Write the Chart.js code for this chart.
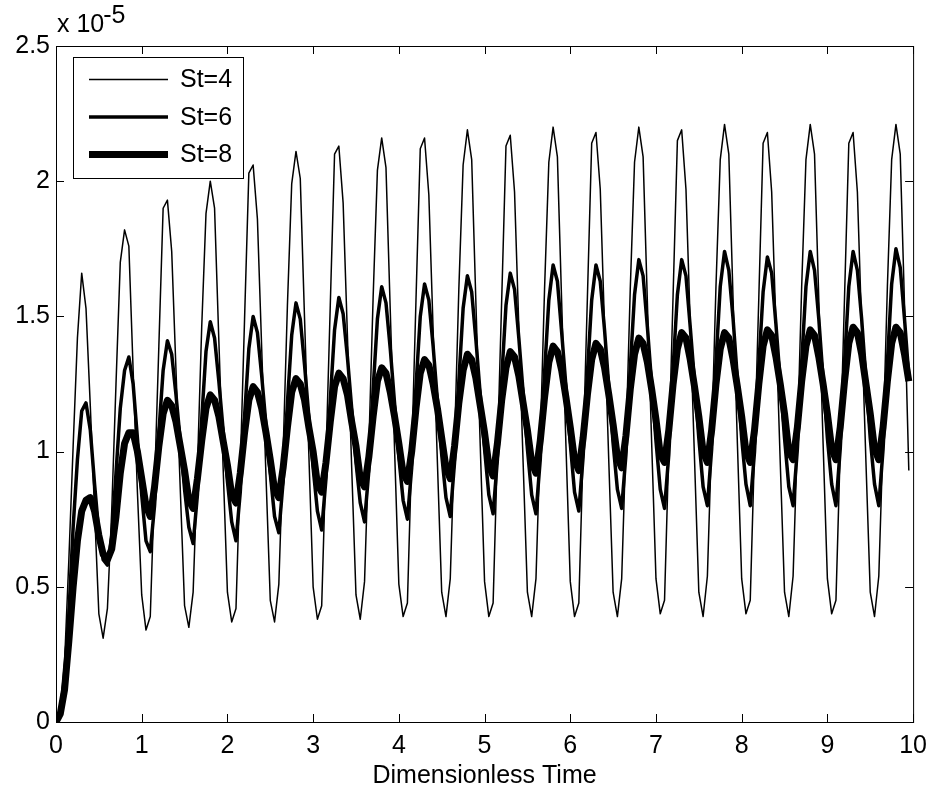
<!DOCTYPE html>
<html>
<head>
<meta charset="utf-8">
<script src="https://cdn.jsdelivr.net/npm/chart.js@4.4.1/dist/chart.umd.min.js"></script>
<style>
  html, body { margin: 0; padding: 0; background: #fff; }
  canvas { display: block; }
</style>
</head>
<body>
<canvas id="st-chart" width="936" height="793"></canvas>
<script>
// sampled every dt (dimensionless time), values in units of 1e-5
const dt = 0.05;

const st4 = [
  0, 0.05, 0.22, 0.60, 1.02, 1.42, 1.66, 1.53, 1.17, 0.78,
  0.40, 0.31, 0.42, 0.78, 1.25, 1.70, 1.82, 1.76, 1.30, 0.85,
  0.47, 0.34, 0.39, 0.88, 1.39, 1.90, 1.93, 1.74, 1.30, 0.86,
  0.43, 0.35, 0.48, 0.94, 1.46, 1.88, 2.00, 1.90, 1.41, 0.94,
  0.48, 0.37, 0.42, 0.94, 1.49, 2.03, 2.06, 1.86, 1.38, 0.91,
  0.45, 0.37, 0.51, 1.00, 1.54, 1.99, 2.11, 2.01, 1.49, 0.99,
  0.50, 0.38, 0.43, 0.98, 1.54, 2.10, 2.13, 1.92, 1.43, 0.94,
  0.47, 0.38, 0.52, 1.02, 1.57, 2.04, 2.16, 2.05, 1.52, 1.01,
  0.51, 0.39, 0.44, 0.99, 1.56, 2.12, 2.16, 1.95, 1.45, 0.96,
  0.48, 0.39, 0.53, 1.04, 1.60, 2.06, 2.19, 2.08, 1.54, 1.02,
  0.52, 0.39, 0.44, 1.00, 1.56, 2.13, 2.17, 1.96, 1.46, 0.96,
  0.48, 0.39, 0.53, 1.04, 1.60, 2.07, 2.20, 2.09, 1.55, 1.02,
  0.52, 0.39, 0.44, 1.00, 1.57, 2.14, 2.18, 1.97, 1.46, 0.96,
  0.48, 0.39, 0.53, 1.04, 1.60, 2.07, 2.20, 2.09, 1.55, 1.03,
  0.53, 0.40, 0.45, 1.01, 1.58, 2.15, 2.19, 1.97, 1.47, 0.97,
  0.48, 0.39, 0.54, 1.05, 1.61, 2.08, 2.21, 2.10, 1.56, 1.03,
  0.53, 0.40, 0.45, 1.01, 1.57, 2.14, 2.18, 1.96, 1.46, 0.96,
  0.48, 0.39, 0.54, 1.05, 1.61, 2.08, 2.21, 2.10, 1.56, 1.03,
  0.53, 0.40, 0.45, 1.01, 1.57, 2.14, 2.18, 1.96, 1.46, 0.96,
  0.48, 0.39, 0.54, 1.05, 1.61, 2.08, 2.21, 2.10, 1.54, 0.93
];

const st6 = [
  0, 0.04, 0.16, 0.40, 0.72, 0.97, 1.15, 1.18, 1.08, 0.88,
  0.70, 0.60, 0.58, 0.68, 0.92, 1.16, 1.30, 1.35, 1.25, 1.05,
  0.84, 0.67, 0.63, 0.80, 1.07, 1.30, 1.41, 1.36, 1.21, 1.04,
  0.86, 0.72, 0.66, 0.84, 1.12, 1.37, 1.48, 1.42, 1.26, 1.08,
  0.89, 0.74, 0.67, 0.85, 1.13, 1.38, 1.50, 1.44, 1.28, 1.10,
  0.92, 0.76, 0.70, 0.89, 1.18, 1.43, 1.55, 1.49, 1.32, 1.13,
  0.94, 0.78, 0.71, 0.90, 1.19, 1.45, 1.57, 1.51, 1.35, 1.16,
  0.96, 0.81, 0.74, 0.93, 1.23, 1.49, 1.61, 1.55, 1.38, 1.18,
  0.98, 0.82, 0.75, 0.94, 1.24, 1.50, 1.62, 1.56, 1.39, 1.19,
  0.99, 0.83, 0.76, 0.96, 1.26, 1.53, 1.65, 1.59, 1.41, 1.21,
  1.01, 0.84, 0.77, 0.97, 1.27, 1.54, 1.66, 1.60, 1.42, 1.22,
  1.01, 0.84, 0.77, 0.97, 1.29, 1.56, 1.69, 1.63, 1.44, 1.24,
  1.03, 0.85, 0.78, 0.98, 1.29, 1.56, 1.69, 1.63, 1.45, 1.24,
  1.03, 0.86, 0.79, 0.99, 1.31, 1.58, 1.71, 1.65, 1.46, 1.25,
  1.04, 0.86, 0.79, 0.99, 1.31, 1.58, 1.71, 1.65, 1.46, 1.26,
  1.05, 0.87, 0.80, 1.01, 1.33, 1.61, 1.74, 1.67, 1.49, 1.27,
  1.05, 0.88, 0.80, 1.00, 1.32, 1.59, 1.72, 1.66, 1.47, 1.26,
  1.05, 0.87, 0.80, 1.01, 1.33, 1.61, 1.74, 1.67, 1.49, 1.27,
  1.05, 0.88, 0.80, 1.01, 1.33, 1.61, 1.74, 1.67, 1.49, 1.27,
  1.05, 0.88, 0.80, 1.01, 1.33, 1.62, 1.75, 1.68, 1.49, 1.28
];

const st8 = [
  0, 0.03, 0.12, 0.30, 0.50, 0.67, 0.78, 0.82, 0.83, 0.78,
  0.69, 0.62, 0.60, 0.64, 0.76, 0.92, 1.03, 1.07, 1.07, 1.00,
  0.90, 0.80, 0.76, 0.87, 1.02, 1.14, 1.19, 1.17, 1.11, 1.02,
  0.93, 0.82, 0.79, 0.90, 1.04, 1.16, 1.21, 1.19, 1.13, 1.04,
  0.95, 0.84, 0.81, 0.92, 1.07, 1.19, 1.24, 1.22, 1.16, 1.07,
  0.97, 0.86, 0.83, 0.94, 1.09, 1.22, 1.27, 1.25, 1.19, 1.09,
  1.00, 0.88, 0.85, 0.96, 1.11, 1.24, 1.29, 1.27, 1.21, 1.11,
  1.02, 0.90, 0.87, 0.98, 1.13, 1.26, 1.31, 1.29, 1.22, 1.13,
  1.03, 0.92, 0.89, 1.00, 1.16, 1.29, 1.34, 1.32, 1.25, 1.16,
  1.05, 0.94, 0.90, 1.02, 1.18, 1.30, 1.36, 1.34, 1.27, 1.17,
  1.07, 0.95, 0.91, 1.03, 1.19, 1.31, 1.37, 1.35, 1.28, 1.18,
  1.08, 0.96, 0.92, 1.04, 1.20, 1.33, 1.39, 1.37, 1.30, 1.20,
  1.09, 0.97, 0.93, 1.05, 1.21, 1.34, 1.40, 1.38, 1.31, 1.21,
  1.10, 0.98, 0.94, 1.06, 1.23, 1.36, 1.42, 1.40, 1.33, 1.23,
  1.12, 0.99, 0.96, 1.08, 1.25, 1.38, 1.44, 1.42, 1.34, 1.24,
  1.13, 1.00, 0.96, 1.08, 1.25, 1.38, 1.44, 1.42, 1.34, 1.24,
  1.13, 1.00, 0.96, 1.08, 1.25, 1.39, 1.45, 1.43, 1.35, 1.25,
  1.14, 1.00, 0.97, 1.09, 1.26, 1.39, 1.45, 1.43, 1.35, 1.25,
  1.14, 1.01, 0.97, 1.09, 1.26, 1.40, 1.46, 1.44, 1.36, 1.25,
  1.14, 1.01, 0.97, 1.09, 1.26, 1.40, 1.46, 1.44, 1.36, 1.26
];

const seriesNames = ['St=4', 'St=6', 'St=8'];
const xTicks = [0, 1, 2, 3, 4, 5, 6, 7, 8, 9, 10];
const yTicks = [0, 0.5, 1, 1.5, 2, 2.5];
const yMultiplier = ['x 10', '-5'];
const xTitle = 'Dimensionless Time';

const time = st4.map((_, i) => +(i * dt).toFixed(2));
const toPoints = vals => vals.map((v, i) => ({ x: time[i], y: v }));

const FONT = '"Liberation Sans", Arial, Helvetica, sans-serif';
const font = { family: FONT, size: 25 };
const widths = [1.5, 3.5, 7];

// MATLAB style box with inward ticks, legend and exponent label
const matlabFrame = {
  id: 'matlabFrame',
  afterDatasetsDraw(chart) {
    const { ctx, chartArea: a, scales: { x, y } } = chart;
    const tl = 8;
    ctx.save();
    ctx.strokeStyle = '#000';
    ctx.lineWidth = 1;
    ctx.beginPath();
    xTicks.forEach(v => {
      const px = Math.round(x.getPixelForValue(v)) + 0.5;
      ctx.moveTo(px, a.bottom); ctx.lineTo(px, a.bottom - tl);
      ctx.moveTo(px, a.top); ctx.lineTo(px, a.top + tl);
    });
    yTicks.forEach(v => {
      const py = Math.round(y.getPixelForValue(v)) + 0.5;
      ctx.moveTo(a.left, py); ctx.lineTo(a.left + tl, py);
      ctx.moveTo(a.right, py); ctx.lineTo(a.right - tl, py);
    });
    ctx.stroke();
    ctx.strokeRect(a.left + 0.5, a.top + 0.5, a.right - a.left, a.bottom - a.top);

    // legend
    const bx = 73.5, by = 57.5, bw = 170, bh = 121;
    ctx.fillStyle = '#fff';
    ctx.fillRect(bx, by, bw, bh);
    ctx.strokeRect(bx, by, bw, bh);
    ctx.font = '25px ' + FONT;
    ctx.textBaseline = 'middle';
    ctx.textAlign = 'left';
    seriesNames.forEach((name, i) => {
      const ry = 79.5 + i * 37.5;
      ctx.beginPath();
      ctx.lineWidth = widths[i];
      ctx.moveTo(89, ry); ctx.lineTo(168, ry);
      ctx.stroke();
      ctx.fillStyle = '#000';
      ctx.fillText(name, 180, ry + 1);
    });

    // exponent label
    ctx.textBaseline = 'alphabetic';
    ctx.fillText(yMultiplier[0], 57, 32);
    const w = ctx.measureText(yMultiplier[0]).width;
    ctx.fillText(yMultiplier[1], 57 + w - 1, 23);
    ctx.restore();
  }
};

const ctx = document.getElementById('st-chart').getContext('2d');
new Chart(ctx, {
  type: 'line',
  data: {
    datasets: [st4, st6, st8].map((vals, i) => ({
      label: seriesNames[i],
      data: toPoints(vals),
      borderColor: '#000',
      borderWidth: widths[i],
      pointRadius: 0,
      tension: 0,
      fill: false,
      borderJoinStyle: 'round'
    }))
  },
  options: {
    responsive: false,
    animation: false,
    devicePixelRatio: 1,
    layout: { padding: { top: 46, right: 21, left: 0, bottom: 0 } },
    plugins: {
      legend: { display: false },
      tooltip: { enabled: false }
    },
    scales: {
      x: {
        type: 'linear',
        min: 0,
        max: 10,
        grid: { display: false, drawTicks: false },
        border: { display: false },
        afterBuildTicks: s => { s.ticks = xTicks.map(v => ({ value: v })); },
        afterFit: s => { s.height = 71; },
        ticks: { font, color: '#000', padding: 9, maxRotation: 0, autoSkip: false },
        title: { display: true, text: xTitle, font, color: '#000', padding: { top: 0, bottom: 2 } }
      },
      y: {
        min: 0,
        max: 2.5,
        grid: { display: false, drawTicks: false },
        border: { display: false },
        afterBuildTicks: s => { s.ticks = yTicks.map(v => ({ value: v })); },
        afterFit: s => { s.width = 56; },
        ticks: { font, color: '#000', padding: 6, autoSkip: false, callback: v => String(v) }
      }
    }
  },
  plugins: [matlabFrame]
});
</script>
</body>
</html>
